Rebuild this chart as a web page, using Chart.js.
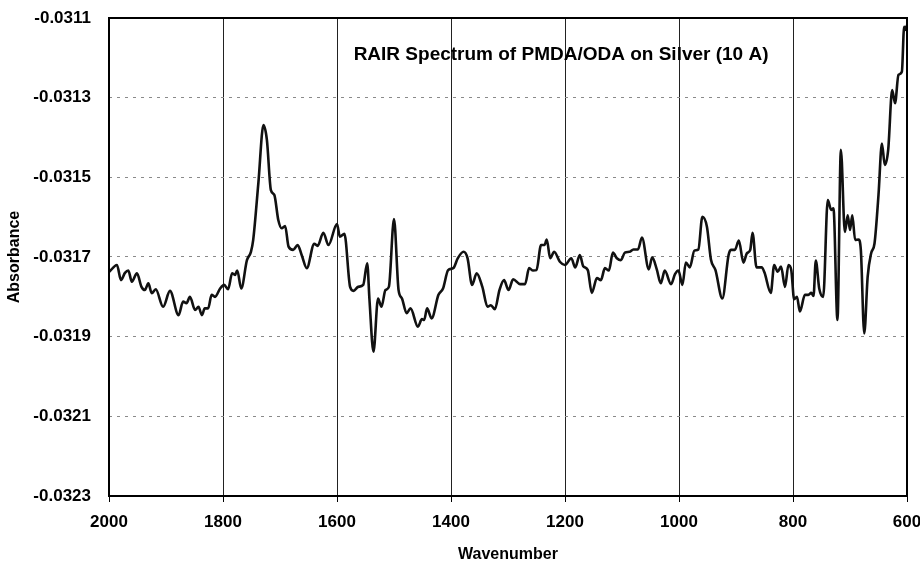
<!DOCTYPE html>
<html>
<head>
<meta charset="utf-8">
<title>RAIR Spectrum of PMDA/ODA on Silver</title>
<script src="https://cdn.jsdelivr.net/npm/chart.js@4/dist/chart.umd.min.js"></script>
<style>
  html, body { margin: 0; padding: 0; background: #fff; }
  canvas { display: block; }
</style>
</head>
<body>
<canvas id="spectrum" width="920" height="563"></canvas>
<script>
// ---------- Data ----------
const wavenumbers = [
  2000, 1986, 1979, 1972, 1966, 1960, 1951, 1943, 1937, 1931, 1925, 1918, 1905, 1893, 1878, 1870,
  1864, 1858, 1849, 1843, 1837, 1832, 1826, 1820, 1814, 1805, 1798, 1791, 1784, 1779, 1775, 1768,
  1758, 1751, 1747, 1738, 1729, 1723, 1716, 1710, 1703, 1697, 1691, 1685, 1677, 1669, 1662, 1653,
  1640, 1634, 1624, 1615, 1600, 1595, 1587, 1577, 1571, 1563, 1554, 1547, 1543, 1536, 1528, 1522,
  1515, 1509, 1500, 1492, 1486, 1478, 1471, 1458, 1451, 1447, 1442, 1434, 1422, 1414, 1405, 1396,
  1388, 1378, 1371, 1363, 1355, 1345, 1336, 1330, 1323, 1315, 1307, 1299, 1291, 1279, 1270, 1263,
  1256, 1250, 1242, 1236, 1232, 1226, 1219, 1209, 1200, 1189, 1182, 1174, 1168, 1160, 1153, 1144,
  1137, 1130, 1123, 1116, 1109, 1102, 1095, 1087, 1080, 1072, 1065, 1053, 1047, 1039, 1032, 1025,
  1014, 1007, 1001, 994, 988, 981, 973, 966, 959, 951, 944, 936, 924, 913, 909, 902,
  895, 887, 881, 875, 871, 864, 855, 850, 839, 833, 827, 821, 814, 808, 803, 798,
  793, 788, 779, 773, 768, 764, 760, 754, 747, 739, 733, 729, 722, 716, 709, 704,
  700, 696, 691, 685, 681, 675, 669, 663, 657, 650, 644, 639, 633, 626, 621, 615,
  609, 605, 602, 600
];

const absorbance = [
  -0.031738, -0.031720, -0.031758, -0.031740, -0.031734, -0.031762, -0.031741, -0.031775,
  -0.031783, -0.031766, -0.031791, -0.031781, -0.031825, -0.031785, -0.031846, -0.031812,
  -0.031816, -0.031800, -0.031833, -0.031825, -0.031846, -0.031829, -0.031829, -0.031795,
  -0.031800, -0.031779, -0.031770, -0.031781, -0.031741, -0.031745, -0.031734, -0.031779,
  -0.031708, -0.031687, -0.031657, -0.031515, -0.031369, -0.031406, -0.031532, -0.031544,
  -0.031607, -0.031628, -0.031622, -0.031674, -0.031682, -0.031670, -0.031695, -0.031728,
  -0.031667, -0.031672, -0.031639, -0.031670, -0.031617, -0.031649, -0.031642, -0.031775,
  -0.031785, -0.031775, -0.031770, -0.031716, -0.031808, -0.031938, -0.031804, -0.031825,
  -0.031783, -0.031775, -0.031605, -0.031783, -0.031804, -0.031841, -0.031829, -0.031875,
  -0.031856, -0.031858, -0.031829, -0.031854, -0.031795, -0.031779, -0.031733, -0.031728,
  -0.031703, -0.031687, -0.031703, -0.031770, -0.031741, -0.031775, -0.031825, -0.031821,
  -0.031831, -0.031783, -0.031758, -0.031783, -0.031756, -0.031768, -0.031768, -0.031728,
  -0.031734, -0.031733, -0.031670, -0.031670, -0.031656, -0.031703, -0.031687, -0.031712,
  -0.031720, -0.031703, -0.031726, -0.031695, -0.031723, -0.031733, -0.031790, -0.031753,
  -0.031758, -0.031728, -0.031734, -0.031689, -0.031703, -0.031708, -0.031689, -0.031687,
  -0.031681, -0.031681, -0.031651, -0.031731, -0.031701, -0.031731, -0.031766, -0.031734,
  -0.031768, -0.031743, -0.031734, -0.031770, -0.031714, -0.031726, -0.031684, -0.031681,
  -0.031599, -0.031624, -0.031706, -0.031733, -0.031804, -0.031695, -0.031682, -0.031682,
  -0.031659, -0.031714, -0.031691, -0.031682, -0.031639, -0.031726, -0.031726, -0.031739,
  -0.031790, -0.031720, -0.031737, -0.031724, -0.031775, -0.031720, -0.031733, -0.031806,
  -0.031800, -0.031837, -0.031795, -0.031795, -0.031790, -0.031798, -0.031709, -0.031779,
  -0.031800, -0.031557, -0.031582, -0.031578, -0.031858, -0.031431, -0.031637, -0.031595,
  -0.031632, -0.031595, -0.031657, -0.031656, -0.031682, -0.031892, -0.031749, -0.031691,
  -0.031666, -0.031544, -0.031415, -0.031469, -0.031431, -0.031281, -0.031314, -0.031243,
  -0.031235, -0.031122, -0.031130, -0.031118
];

const xTicks = [2000, 1800, 1600, 1400, 1200, 1000, 800, 600];
const yTicks = [-0.0323, -0.0321, -0.0319, -0.0317, -0.0315, -0.0313, -0.0311];

const chartTitle = "RAIR Spectrum of PMDA/ODA on Silver (10 A)";
const xTitle = "Wavenumber";
const yTitle = "Absorbance";

const FONT = '"Liberation Sans", Arial, Helvetica, sans-serif';

// ---------- Plugins ----------
// title sits inside the plot, plus the black frame round the plot area
const insideTitle = {
  id: "insideTitle",
  afterDraw(chart) {
    const { ctx, chartArea } = chart;
    const w = chartArea.right - chartArea.left;
    ctx.save();
    ctx.font = `bold 19px ${FONT}`;
    ctx.fillStyle = "#000";
    ctx.textAlign = "center";
    ctx.textBaseline = "middle";
    ctx.fillText(chartTitle, chartArea.left + w * 0.5665, chartArea.top + 37);
    ctx.restore();
  }
};

const plotFrame = {
  id: "plotFrame",
  afterDatasetsDraw(chart) {
    const { ctx, chartArea } = chart;
    ctx.save();
    ctx.strokeStyle = "#000";
    ctx.lineWidth = 2;
    ctx.strokeRect(chartArea.left, chartArea.top, chartArea.right - chartArea.left, chartArea.bottom - chartArea.top);
    ctx.restore();
  }
};

// ---------- Chart ----------
const ctx = document.getElementById("spectrum").getContext("2d");
new Chart(ctx, {
  type: "line",
  data: {
    datasets: [{
      label: "Absorbance",
      data: wavenumbers.map((w, i) => ({ x: w, y: absorbance[i] })),
      borderColor: "#111",
      borderWidth: 2.6,
      pointRadius: 0,
      fill: false,
      cubicInterpolationMode: "monotone"
    }]
  },
  options: {
    responsive: false,
    animation: false,
    layout: { padding: { left: 0, right: 13, top: 18, bottom: 0 } },
    plugins: {
      legend: { display: false },
      tooltip: { enabled: false }
    },
    scales: {
      x: {
        type: "linear",
        reverse: true,
        min: 600,
        max: 2000,
        afterBuildTicks: s => { s.ticks = xTicks.map(v => ({ value: v })); },
        afterFit: s => {
          s.height = 67;
          s.paddingLeft = 0;
          s.paddingRight = 0;
        },
        ticks: {
          color: "#000",
          font: { family: FONT, size: 17, weight: "bold" },
          padding: 10,
          maxRotation: 0,
          callback: v => String(v)
        },
        grid: {
          color: "#222",
          lineWidth: 1,
          drawTicks: true,
          tickLength: 6,
          tickColor: "#000"
        },
        border: { display: false },
        title: {
          display: true,
          text: xTitle,
          color: "#000",
          font: { family: FONT, size: 16, weight: "bold" },
          padding: { top: 0, bottom: -1 }
        }
      },
      y: {
        type: "linear",
        min: -0.0323,
        max: -0.0311,
        afterBuildTicks: s => { s.ticks = yTicks.map(v => ({ value: v })); },
        afterFit: s => {
          s.width = 109;
          s.paddingTop = 0;
          s.paddingBottom = 0;
        },
        ticks: {
          color: "#000",
          font: { family: FONT, size: 17, weight: "bold" },
          padding: 18,
          callback: v => v.toFixed(4)
        },
        grid: {
          color: "#8a8a8a",
          lineWidth: 1,
          drawTicks: false
        },
        border: { display: false, dash: [3, 5] },
        title: {
          display: true,
          text: yTitle,
          color: "#000",
          font: { family: FONT, size: 16, weight: "bold" },
          padding: { top: 5, bottom: 0 }
        }
      }
    }
  },
  plugins: [insideTitle, plotFrame]
});
</script>
</body>
</html>
